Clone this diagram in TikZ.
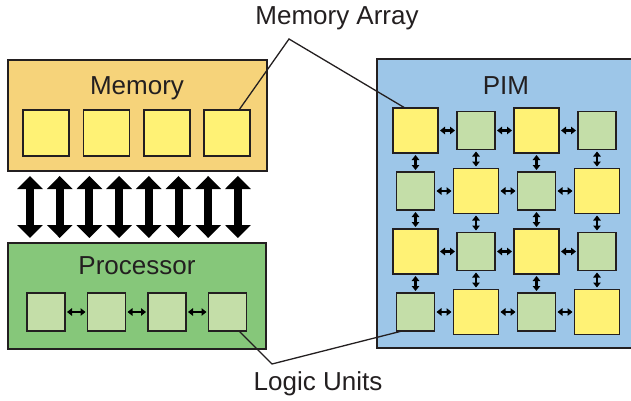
\documentclass[tikz,border=0pt]{standalone}
\usepackage{fontspec}
\setmainfont{Liberation Sans}
\usetikzlibrary{arrows.meta}

\definecolor{ink}{RGB}{35,31,32}
\definecolor{memfill}{RGB}{246,211,122}
\definecolor{procfill}{RGB}{134,199,122}
\definecolor{pimfill}{RGB}{157,198,232}
\definecolor{cellyellow}{RGB}{255,242,117}
\definecolor{cellgreen}{RGB}{196,222,168}

\begin{document}
\begin{tikzpicture}[x=1pt,y=-1pt,
  box/.style={draw=ink,line width=2.2pt,inner sep=0pt,outer sep=0pt,rectangle},
  cellY/.style={draw=ink,line width=1.4pt,fill=cellyellow,minimum size=45pt,inner sep=0pt,outer sep=0pt},
  cellG/.style={draw=ink,line width=1.4pt,fill=cellgreen,minimum size=38pt,inner sep=0pt,outer sep=0pt},
  lbl/.style={text=ink,font=\fontsize{26}{30}\selectfont,inner sep=0pt,anchor=base},
  bus/.style={draw=black,line width=8pt,
    {Triangle[width=25pt,length=13pt]}-{Triangle[width=25pt,length=13pt]}},
  link/.style={draw=black,line width=2.6pt,
    {Triangle[width=7.5pt,length=5pt]}-{Triangle[width=7.5pt,length=5pt]},
    shorten <=2pt,shorten >=2pt},
  leader/.style={draw=ink,line width=1.3pt}]

\clip (0,0) rectangle (631,401);

% outer blocks
\node[box,fill=memfill,minimum width=259pt,minimum height=111pt] (mem) at (137.5,115.5) {};
\node[box,fill=procfill,minimum width=258pt,minimum height=106pt] (proc) at (137,296) {};
\node[box,fill=pimfill,minimum width=263pt,minimum height=289pt] (pim) at (508.5,203.5) {};

% block titles
\node[lbl] (memtitle) at (137,95) {Memory};
\node[lbl] (proctitle) at (137,274) {Processor};
\node[lbl] (pimtitle) at (506,95) {PIM};

% memory arrays
\foreach \x [count=\i] in {46,106.5,167,227}
  \node[cellY,minimum size=46pt] (m\i) at (\x,133) {};

% logic units of the processor
\foreach \x [count=\i] in {46,106.5,167,227.5}
  \node[cellG] (l\i) at (\x,312) {};
\draw[link] (l1) -- (l2);
\draw[link] (l2) -- (l3);
\draw[link] (l3) -- (l4);

% memory bus
\foreach \i in {0,...,7}{
  \pgfmathsetmacro\dx{22+29.7*\i}
  \draw[bus] ([xshift=\dx pt,yshift=-5pt]mem.south west) --
             ([xshift=\dx pt,yshift=5pt]proc.north west);
}

% PIM grid: arrays and logic units alternate
\foreach \y [count=\r] in {130.5,191,251.5,312}{
  \foreach \x [count=\c] in {415.5,476,536.5,597}{
    \pgfmathtruncatemacro\pty{mod(\r+\c,2)}
    \ifnum\pty=0
      \node[cellY] (p\r\c) at (\x,\y) {};
    \else
      \node[cellG] (p\r\c) at (\x,\y) {};
    \fi
  }
}
\foreach \r in {1,...,4}{
  \foreach \c/\d in {1/2,2/3,3/4}{
    \draw[link] (p\r\c) -- (p\r\d);
  }
}
\foreach \c in {1,...,4}{
  \foreach \r/\s in {1/2,2/3,3/4}{
    \draw[link] (p\r\c) -- (p\s\c);
  }
}

% callouts
\node[lbl] (arraylbl) at (337,25) {Memory Array};
\node[lbl] (unitlbl) at (318,390) {Logic Units};
\coordinate (arrayapex) at (289,39);
\coordinate (unitapex) at (272,364);
\draw[leader] ([xshift=12pt]m4.north) -- (arrayapex) -- ([xshift=-10.5pt]p11.north);
\draw[leader] ([xshift=11.5pt]l4.south) -- (unitapex) -- ([xshift=-13.5pt]p41.south);

\end{tikzpicture}
\end{document}
